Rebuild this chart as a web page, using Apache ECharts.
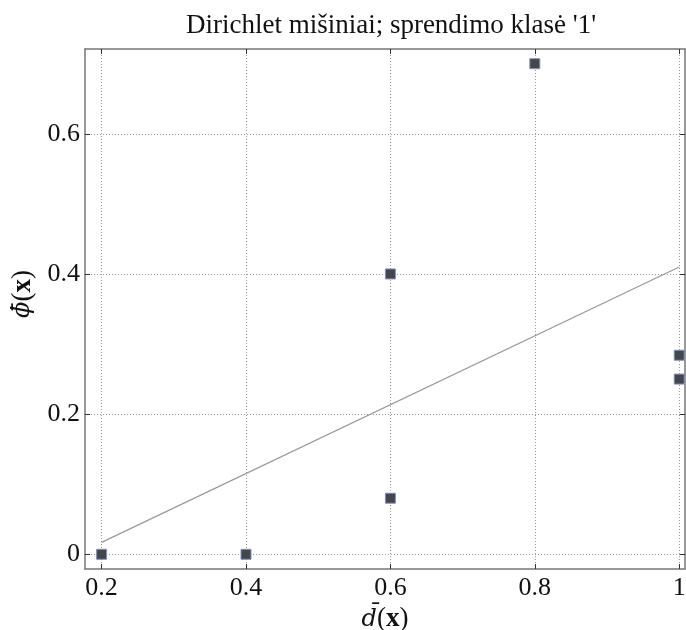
<!DOCTYPE html>
<html>
<head>
<meta charset="utf-8">
<script src="https://cdn.jsdelivr.net/npm/echarts@6/dist/echarts.min.js"></script>
<style>
  html, body { margin: 0; padding: 0; background: #fff; }
  #chart { width: 686px; height: 630px; }
</style>
</head>
<body>
<div id="chart"></div>
<script>
// taskai
const dX = [0.2, 0.4, 0.6, 0.6, 0.8, 1.0, 1.0]
const phiY = [0.0, 0.0, 0.4, 0.08, 0.7, 0.284, 0.25]
// tiesė (nuskaityta nuo paveikslo)
const fitX = [0.2, 1.0]
const fitY = [0.017, 0.41]
// ašių žymės
const xTicks = [0.2, 0.4, 0.6, 0.8, 1.0]
const yTicks = [0, 0.2, 0.4, 0.6]

const serif = '"Liberation Serif", "DejaVu Serif", serif'
const chart = echarts.init(document.getElementById('chart'))

const baseAxis = {
  type: 'value',
  axisLine: { show: true, onZero: false, lineStyle: { color: '#777', width: 1.5 } },
  axisTick: { show: true, inside: true, length: 5, lineStyle: { color: '#333' } },
  splitLine: { show: false }
}

const nameRich = {
  i: { fontFamily: '"DejaVu Serif", serif', fontStyle: 'italic', fontSize: 24, color: '#111' },
  n: { fontFamily: serif, fontSize: 27, color: '#111' },
  b: { fontFamily: serif, fontWeight: 'bold', fontSize: 27, color: '#111' }
}

const option = {
  backgroundColor: '#fff',
  animation: false,
  title: {
    text: "Dirichlet mišiniai; sprendimo klasė '1'",
    left: 386,
    textAlign: 'center',
    top: 7,
    textStyle: { fontFamily: serif, fontSize: 27, fontWeight: 'normal', color: '#111' }
  },
  grid: { left: 85, right: 1, top: 49, bottom: 61, containLabel: false, outerBoundsMode: 'none' },
  xAxis: [{
    ...baseAxis,
    position: 'bottom',
    min: 0.177,
    max: 1.008,
    axisTick: { ...baseAxis.axisTick, customValues: xTicks },
    axisLabel: {
      customValues: xTicks,
      fontFamily: serif, fontSize: 26, color: '#111', margin: 6,
      formatter: v => String(Math.round(v * 10) / 10)
    },
    splitLine: { show: true, lineStyle: { color: '#999', type: [1, 2], width: 1 } },
    name: '{i|d\u0304}{n|(}{b|x}{n|)}',
    nameLocation: 'middle',
    nameGap: 22,
    nameTextStyle: { rich: nameRich }
  }, {
    ...baseAxis,
    position: 'top',
    min: 0.177,
    max: 1.008,
    axisTick: { ...baseAxis.axisTick, customValues: xTicks },
    axisLabel: { show: false }
  }],
  yAxis: [{
    ...baseAxis,
    position: 'left',
    min: -0.021,
    max: 0.721,
    axisTick: { ...baseAxis.axisTick, customValues: yTicks },
    axisLabel: {
      customValues: yTicks,
      fontFamily: serif, fontSize: 26, color: '#111', margin: 5,
      formatter: v => String(Math.round(v * 10) / 10)
    },
    splitLine: { show: true, lineStyle: { color: '#999', type: [1, 2], width: 1 } },
    name: '{i|\u03d5\u0304}{n|(}{b|x}{n|)}',
    nameLocation: 'middle',
    nameRotate: 90,
    nameGap: 46,
    nameTextStyle: { rich: nameRich, padding: [0, 0, 0, 30] }
  }, {
    ...baseAxis,
    position: 'right',
    min: -0.021,
    max: 0.721,
    axisTick: { ...baseAxis.axisTick, customValues: yTicks },
    axisLabel: { show: false }
  }],
  series: [{
    type: 'line',
    data: fitX.map((x, i) => [x, fitY[i]]),
    symbol: 'none',
    lineStyle: { color: '#999', width: 1.2 },
    z: 2
  }, {
    type: 'scatter',
    data: dX.map((x, i) => [x, phiY[i]]),
    symbol: 'rect',
    symbolSize: 10,
    itemStyle: { color: '#45464a', borderColor: '#8092c4', borderWidth: 1, opacity: 1 },
    z: 3
  }]
}

chart.setOption(option)
</script>
</body>
</html>
